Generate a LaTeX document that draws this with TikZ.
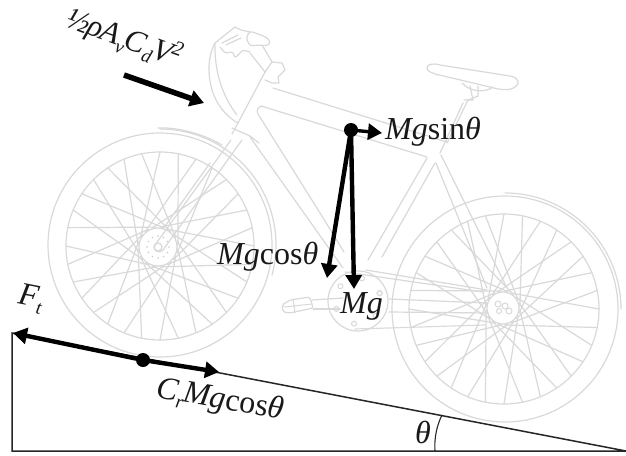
\documentclass[tikz,border=0pt]{standalone}
\usepackage{fontspec}
\setmainfont{Liberation Serif}
\usetikzlibrary{arrows.meta,calc}
\newcommand{\lowsub}[1]{\raisebox{-.22em}{\fontsize{19}{19}\selectfont\itshape #1}}
\newcommand{\hisup}[1]{\raisebox{.34em}{\fontsize{21}{21}\selectfont\itshape #1}}
\tikzset{
  bike/.style={draw=black!15,line width=1.2pt,line join=round,line cap=round},
  force/.style={draw=black,line width=4.4pt,-{Triangle[length=14pt,width=16pt]}},
  ramp/.style={draw=black!85,line width=1.5pt},
  dot/.style={circle,fill=black,inner sep=0pt,minimum size=14pt},
  lab/.style={font=\fontsize{32}{34}\selectfont\itshape,inner sep=0pt,text=black!90},
}
\begin{document}
\begin{tikzpicture}[x=1pt,y=-1pt]
\useasboundingbox (0,0) rectangle (626,455);
\fill[white] (0,0) rectangle (626,455);
% ---- bicycle, front wheel
\draw[bike] (160,245) circle[radius=112pt];
\draw[bike] (160,246) circle[radius=94pt];
\foreach \a in {0,22.5,...,349} {
  \draw[bike] ($(158,247)+(\a+62:20pt)$) -- ($(160,246)+(\a:94pt)$);
  \draw[bike] ($(158,247)+(\a-62:20pt)$) -- ($(160,246)+(\a+11.25:94pt)$);
}
\draw[bike,fill=white] (158,247) circle[radius=19pt];
\draw[bike] (158,247) circle[radius=4pt];
\foreach \a in {0,30,...,359} \fill[black!20] ($(158,247)+(\a:11pt)$) circle[radius=.8pt];
\draw[bike] (158,128) .. controls (180,127) and (205,135) .. (222,145);
\draw[bike] (160,129) arc[start angle=90,end angle=-15,radius=116pt];
% ---- rear wheel
\draw[bike] (505,309) circle[radius=113pt];
\draw[bike] (504,309) circle[radius=95pt];
\foreach \a in {0,22.5,...,349} {
  \draw[bike] ($(503,308)+(\a+62:17pt)$) -- ($(504,309)+(\a:95pt)$);
  \draw[bike] ($(503,308)+(\a-62:17pt)$) -- ($(504,309)+(\a+11.25:95pt)$);
}
\draw[bike,fill=white] (503,308) circle[radius=16pt];
\draw[bike,line width=1pt] (498,304) circle[radius=3pt] (505,306) circle[radius=3pt] (509,311) circle[radius=3pt] (499,311) circle[radius=2.5pt];
\draw[bike] (505,193) arc[start angle=90,end angle=0,radius=116pt];
% frame
\draw[bike] (273,88) -- (447,142);
\draw[bike] (261,106) -- (427,157);
\draw[bike] (262,106) .. controls (258,107) and (256,110) .. (258,114) -- (320,213) -- (344,252);
\draw[bike] (250,137) -- (343,268);
\draw[bike] (265,72) -- (238,123) -- (232,134);
% fork
\draw[bike] (231,140) -- (155,245) .. controls (152,251) and (160,254) .. (163,250) -- (242,140);
\draw[bike] (232,128) -- (250,136) -- (259,143);
\draw[bike] (210,163) -- (163,229);
% seat tube, post, stays
\draw[bike] (427,158) -- (368,260);
\draw[bike] (435,163) -- (382,257);
\draw[bike] (447,143) -- (468,100);
\draw[bike] (440,153) -- (463,103);
\draw[bike] (436,163) -- (487,288);
\draw[bike] (441,155) -- (507,288);
% saddle
\draw[bike] (427,68) .. controls (427,64) and (433,63) .. (440,65) -- (510,76)
  .. controls (520,78) and (520,84) .. (515,87) .. controls (510,91) and (500,90) .. (490,87)
  -- (435,74) .. controls (430,72) and (427,71) .. (427,68);
\draw[bike] (462,83) .. controls (470,92) and (485,93) .. (493,87);
\draw[bike] (470,86) -- (473,100) -- (464,100);
\draw[bike] (478,86) -- (478,96) -- (468,100);
% handlebar and stem
\draw[bike] (215,43) .. controls (204,62) and (206,105) .. (238,123);
\draw[bike] (215,43) .. controls (214,75) and (225,100) .. (237,115);
\draw[bike] (215,43) -- (235,27) -- (241,30) -- (250,32);
\draw[bike,rounded corners=3pt] (250,31) -- (266,37) -- (271,42) -- (267,46) -- (260,45) -- (250,46) -- (246,38) -- cycle;
\draw[bike] (222,43) -- (238,35) (226,45) -- (241,38);
\draw[bike,rounded corners=1.5pt] (220,47) -- (225,53) -- (233,52) -- (235,58) -- (240,53) -- (243,50) -- (250,52);
\draw[bike] (250,53) -- (265,72);
\draw[bike] (262,45) -- (272,62) -- (282,63) -- (285,70) -- (278,77) -- (279,83) -- (272,83) -- (265,80);
\draw[bike] (265,72) -- (272,62);
% chain, chainring, crank
\draw[bike] (358,301) circle[radius=30pt];
\foreach \a in {20,80,...,380} \draw[bike,line width=1pt] ($(358,301)+(\a:23pt)$) circle[radius=2.5pt];
\draw[bike] (345,272) -- (483,292);
\draw[bike] (366,270) -- (487,290);
\draw[bike,dash pattern=on 2pt off 1pt] (355,329) -- (485,325);
\draw[bike] (389,299) -- (487,303);
\draw[bike] (389,312) -- (488,313);
\draw[bike] (312,300) -- (343,298);
\draw[bike] (313,309) -- (340,309);
\draw[bike,rounded corners=2pt] (282,305) -- (290,300) -- (310,297) -- (313,308) -- (290,313) -- (283,312) -- cycle;
\draw[bike,line width=1pt] (284,307) -- (312,304) (293,299) -- (295,313);
% ---- slope
\coordinate (top) at (12,333);
\coordinate (foot) at (12,451);
\coordinate (tip) at (626,451);
\draw[ramp,line join=miter] (top) -- (foot) -- (tip) -- cycle;
\coordinate (arcA) at (435,451);
\coordinate (arcB) at (442,415);
\draw[ramp,line width=1.1pt] (arcA) .. controls (434,438) and (437,425) .. (arcB);
% ---- forces
\node[dot] (cg) at (351,130) {};
\node[dot] (cp) at (143,360) {};
\coordinate (sinEnd) at (382,133);
\coordinate (cosEnd) at (327,278);
\coordinate (mgEnd) at (354,289);
\coordinate (ftEnd) at (13,333);
\coordinate (crEnd) at (219,372);
\coordinate (dragA) at (124,75);
\coordinate (dragB) at (204,103);
\draw[force,line width=3.4pt] (cg.center) -- (sinEnd);
\draw[force] (cg.center) -- (cosEnd);
\draw[force] (cg.center) -- (mgEnd);
\draw[force] (cp.center) -- (ftEnd);
\draw[force] (cp.center) -- (crEnd);
\draw[force,line width=5.5pt] (dragA) -- (dragB);
% ---- labels
\node[lab,anchor=base west] (l1) at (385,139) {Mg\textup{sin}θ};
\node[lab,anchor=base west] (l2) at (217,264) {Mg\textup{cos}θ};
\node[lab,anchor=base west] (l3) at (340,313) {Mg};
\node[lab,anchor=base west] (l4) at (415,443) {θ};
\node[lab,anchor=base west,rotate=-10] (l5) at (155,397) {C\lowsub{r}\kern-1ptMg\textup{cos}θ};
\node[lab,anchor=base west,rotate=-11] (l6) at (17,303) {F\lowsub{t}};
\node[lab,anchor=base west,rotate=-20,font=\fontsize{31}{33}\selectfont\itshape] (l7) at (64,26) {½\kern-1ptρ\kern-1ptA\lowsub{v}\kern-1ptC\lowsub{d}\kern-1ptV\kern-1pt\hisup{2}};
\end{tikzpicture}
\end{document}
